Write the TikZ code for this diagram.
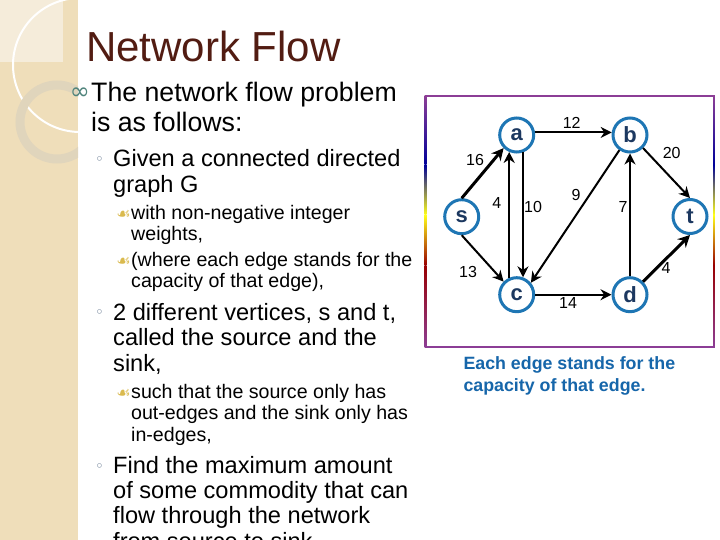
\documentclass[tikz,border=0pt]{standalone}
\usepackage{fontspec}
\setmainfont{Liberation Sans}
\newfontfamily\dejavu{DejaVu Sans}
\usetikzlibrary{arrows.meta}
\definecolor{panel}{RGB}{239,222,186}
\definecolor{panellight}{RGB}{245,236,218}
\definecolor{ringcol}{RGB}{224,213,188}
\definecolor{titlecol}{RGB}{82,28,18}
\definecolor{nodeblue}{RGB}{30,118,180}
\definecolor{letternavy}{RGB}{28,56,96}
\definecolor{captionblue}{RGB}{22,102,170}
\definecolor{boxpurple}{RGB}{140,62,150}
\definecolor{tealbullet}{RGB}{80,132,124}
\definecolor{goldbullet}{RGB}{218,186,78}
\definecolor{greybullet}{RGB}{95,115,140}
\tikzset{
  vtx/.style={circle, draw=nodeblue, line width=3pt, fill=white, minimum size=34pt, inner sep=0pt,
    font=\fontsize{22}{22}\selectfont\bfseries, text=letternavy},
  elab/.style={inner sep=0pt, anchor=center, font=\fontsize{16}{16}\selectfont},
  conn/.style={line width=2pt, -{Stealth[length=11pt,width=11pt]}},
  thickconn/.style={line width=3pt, -{Stealth[length=12pt,width=12pt]}},
  lone/.style={anchor=base west, inner sep=0pt, font=\fontsize{26.7}{26.7}\selectfont},
  ltwo/.style={anchor=base west, inner sep=0pt, font=\fontsize{23.6}{23.6}\selectfont},
  lthree/.style={anchor=base west, inner sep=0pt, font=\fontsize{19.6}{19.6}\selectfont},
  bone/.style={anchor=base east, inner sep=0pt, text=tealbullet, font=\dejavu\fontsize{24}{24}\selectfont},
  btwo/.style={anchor=base west, inner sep=0pt, text=greybullet, font=\dejavu\fontsize{15}{15}\selectfont},
  bthree/.style={anchor=base east, inner sep=0pt, text=goldbullet, font=\dejavu\fontsize{16}{16}\selectfont},
  captext/.style={anchor=base west, inner sep=0pt, text=captionblue, font=\fontsize{17.8}{17.8}\selectfont\bfseries},
}
\begin{document}
\begin{tikzpicture}[x=1pt,y=-1pt]
\useasboundingbox (0,0) rectangle (720,540);
\clip (0,0) rectangle (720,540);
\fill[white] (0,0) rectangle (720,540);
% left decorative panel
\fill[panel] (0,0) rectangle (78,540);
\begin{scope}
\clip (0,0) rectangle (78,540);
\fill[panellight] (0,0) rectangle (63,62);
\draw[white, line width=2pt] (80,65) circle (67);
\draw[ringcol, line width=9pt] (57,122) circle (37);
\end{scope}
% title
\node[anchor=base west, inner sep=0pt, text=titlecol, font=\fontsize{42}{42}\selectfont] (title) at (86,61.5) {Network Flow};
% level 1
\node[bone] (b1) at (90,100) {∞};
\node[lone] (t1a) at (91,101.7) {The network flow problem};
\node[lone] (t1b) at (91,131.7) {is as follows:};
% level 2 first
\node[btwo] (b2a) at (95,164.5) {◦};
\node[ltwo] (t2a) at (113,166.7) {Given a connected directed};
\node[ltwo] (t2b) at (113,192.7) {graph G};
\node[bthree] (b3a) at (131,220) {☙};
\node[lthree] (t3a) at (131,220) {with non-negative integer};
\node[lthree] (t3b) at (131,240.7) {weights,};
\node[bthree] (b3b) at (131,266.7) {☙};
\node[lthree] (t3c) at (131,266.7) {(where each edge stands for the};
\node[lthree] (t3d) at (131,287.3) {capacity of that edge),};
\node[btwo] (b2b) at (95,317.8) {◦};
\node[ltwo] (t2c) at (113,320) {2 different vertices, s and t,};
\node[ltwo] (t2d) at (113,345.3) {called the source and the};
\node[ltwo] (t2e) at (113,371.3) {sink,};
\node[bthree] (b3c) at (131,398.3) {☙};
\node[lthree] (t3e) at (131,398.3) {such that the source only has};
\node[lthree] (t3f) at (131,419.5) {out-edges and the sink only has};
\node[lthree] (t3g) at (131,441.5) {in-edges,};
\node[btwo] (b2c) at (95,471.1) {◦};
\node[ltwo] (t2f) at (113,473.3) {Find the maximum amount};
\node[ltwo] (t2g) at (113,498.5) {of some commodity that can};
\node[ltwo] (t2h) at (113,523.5) {flow through the network};
\node[ltwo] (t2i) at (113,549) {from source to sink};
% graph box
\draw[boxpurple, line width=1.5pt] (425.5,96) -- (714,96);
\draw[boxpurple, line width=1.5pt] (425.5,347) -- (714,347);
\foreach \xx in {425.5,714}{
  \shade[top color=boxpurple, bottom color=blue!60!black] (\xx-0.8,96) rectangle (\xx+0.8,165);
  \shade[top color=blue!60!black, middle color=green!60!black, bottom color=yellow!90!white] (\xx-0.8,165) rectangle (\xx+0.8,215);
  \shade[top color=yellow!90!white, middle color=orange!80!white, bottom color=red!60!black] (\xx-0.8,215) rectangle (\xx+0.8,265);
  \shade[top color=red!60!black, bottom color=boxpurple] (\xx-0.8,265) rectangle (\xx+0.8,347.7);
}
% nodes
\node[vtx] (a) at (516.7,135) {a};
\node[vtx] (b) at (630,135) {b};
\node[vtx] (s) at (461.7,216.7) {s};
\node[vtx] (t) at (690,216.5) {t};
\node[vtx] (c) at (516.7,294.7) {c};
\node[vtx] (d) at (630,294.7) {d};
% connectors
\draw[thickconn] (s.north) -- (a.south west);
\draw[conn] (s.south) -- (c.north west);
\draw[conn] (c.114) -- (a.246);
\draw[conn] (a.290) -- (c.70);
\draw[conn] (a.8) -- (b.172);
\draw[conn] (b.235) -- (c.40);
\draw[conn] (d.north) -- (b.south);
\draw[conn] (b.-45) -- (t.north);
\draw[thickconn] (d.45) -- (t.south);
\draw[conn] (c.east) -- (d.west);
% edge labels
\node[elab] (l12) at (571.7,123.3) {12};
\node[elab] (l16) at (475,160) {16};
\node[elab] (l20) at (671.7,153) {20};
\node[elab] (l4a) at (496.7,203) {4};
\node[elab] (l10) at (533,206.7) {10};
\node[elab] (l9) at (576,195) {9};
\node[elab] (l7) at (623,206.7) {7};
\node[elab] (l13) at (468,271.7) {13};
\node[elab] (l4t) at (666,268) {4};
\node[elab] (l14) at (568,303) {14};
% caption
\node[captext] (cap1) at (463.3,369.3) {Each edge stands for the};
\node[captext] (cap2) at (463.3,391.7) {capacity of that edge.};
\end{tikzpicture}
\end{document}
